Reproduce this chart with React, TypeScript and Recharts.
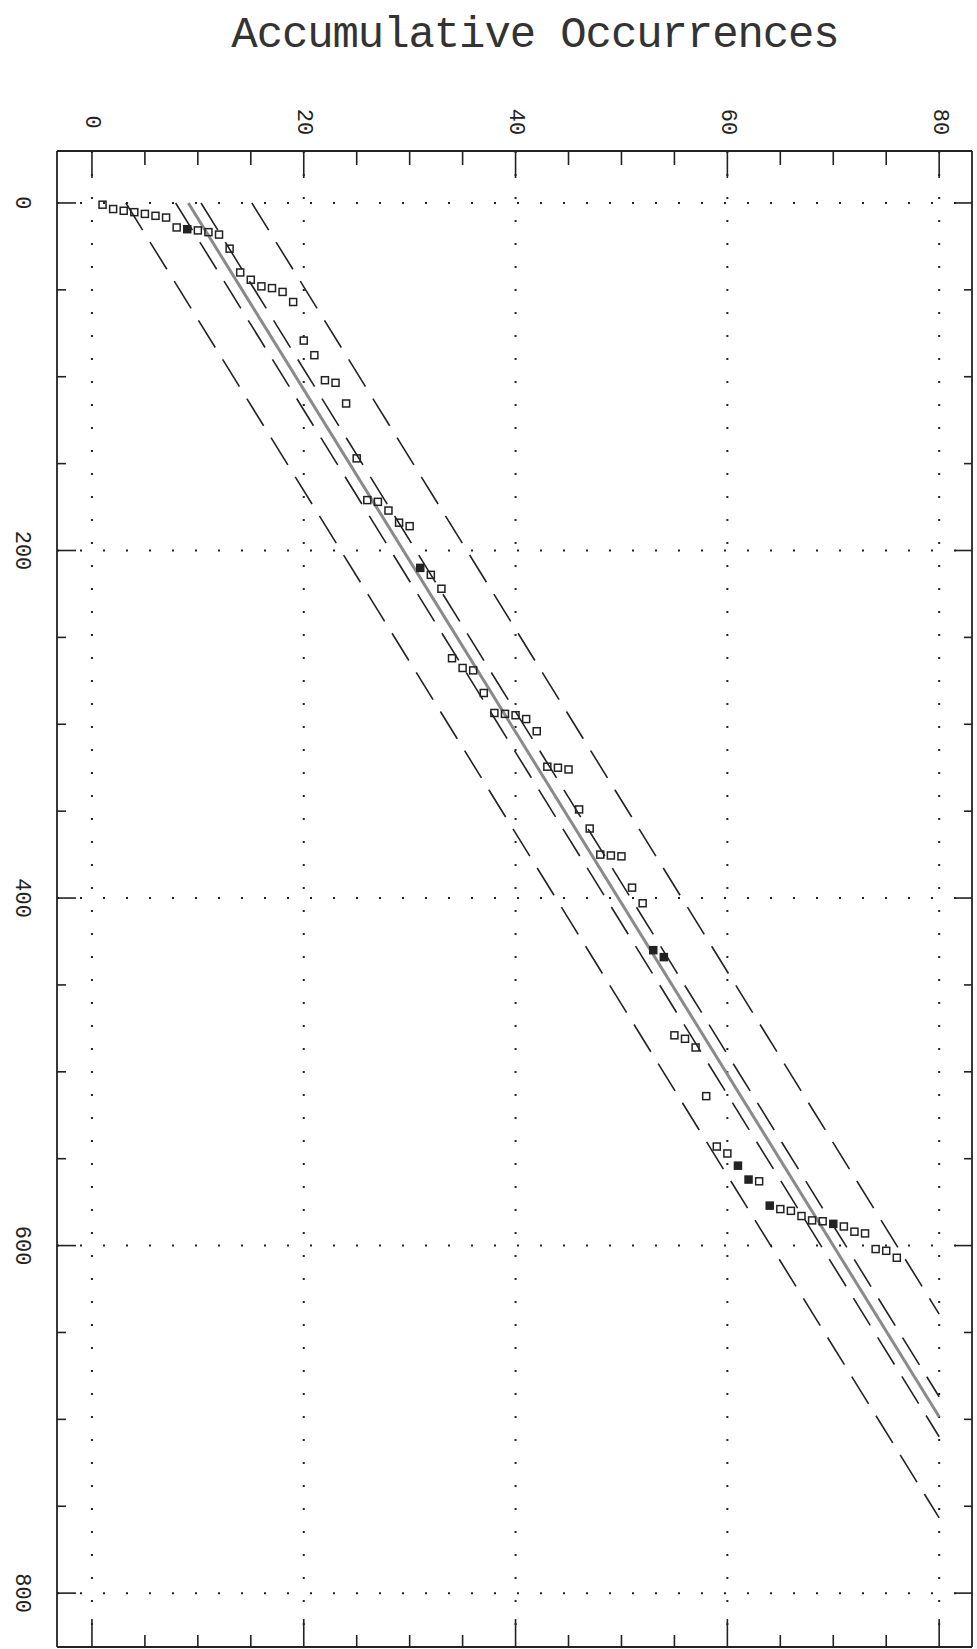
import {
  ReferenceLine,
  Scatter,
  ScatterChart,
  XAxis,
  YAxis,
} from "recharts";

// cumulative count of events (x) against the time of each event (y)
const eventTimes = [
  1, 3.5, 4.5, 5.3, 6.3, 7.4, 8.4, 14.1, 15.1, 15.8,
  16.8, 18.2, 26.3, 40, 44.2, 48, 49, 51.2, 57, 79.2,
  87.6, 102, 103.5, 115.4, 147, 171, 172, 177, 184, 186,
  210, 214, 222, 262, 267.6, 269, 282, 293.5, 294, 294.8,
  297, 304, 324.4, 325, 326, 349, 360, 375, 375.5, 376,
  394, 403, 430, 434, 479, 481, 486, 514, 543, 547,
  554, 562, 563, 577, 579, 580, 583, 585.5, 586, 587.5,
  589, 592, 593, 602, 603, 607,
];
// points drawn as solid squares
const solidPoints = [9, 31, 53, 54, 61, 62, 64, 70];

// fitted trend and its two bands, as [count, time] end points
const fitLine = [[9.1, 0], [80, 698.5]];
const innerLow = [[7.9, 0], [80, 710]];
const innerHigh = [[10.3, 0], [80, 687]];
const outerLow = [[3.2, 0], [80, 756.7]];
const outerHigh = [[15.1, 0], [80, 639.4]];

const countTicks = [0, 5, 10, 15, 20, 25, 30, 35, 40, 45, 50, 55, 60, 65, 70, 75, 80];
const timeTicks = [0, 50, 100, 150, 200, 250, 300, 350, 400, 450, 500, 550, 600, 650, 700, 750, 800];
const countGrid = [0, 20, 40, 60, 80];
const timeGrid = [0, 200, 400, 600, 800];

const points = eventTimes.map((t, i) => ({ n: i + 1, t, solid: solidPoints.includes(i + 1) }));
const toPts = (seg: number[][]) => seg.map(([n, t]) => ({ n, t }));

const INK = "#222";
const FONT = "'Liberation Mono', 'DejaVu Sans Mono', monospace";
const TOP_MARGIN = 29;
const LEFT_MARGIN = 36;
const LABEL_SIZE = 22;

function TopTick(props: any) {
  const { x, y, payload } = props;
  const v = payload.value;
  const base = y + TOP_MARGIN;
  const major = v % 20 === 0;
  return (
    <g>
      <line x1={x} y1={base} x2={x} y2={base + (major ? 27 : 14)} stroke={INK} strokeWidth={1.6} />
      {major && (
        <text
          x={x}
          y={y}
          transform={`rotate(90 ${x} ${y})`}
          textAnchor="middle"
          dominantBaseline="central"
          fontFamily={FONT}
          fontSize={LABEL_SIZE}
          fill={INK}
        >
          {v}
        </text>
      )}
    </g>
  );
}

function BottomTick(props: any) {
  const { x, y, payload } = props;
  const major = payload.value % 20 === 0;
  return <line x1={x} y1={y} x2={x} y2={y - (major ? 28 : 12)} stroke={INK} strokeWidth={1.6} />;
}

function LeftTick(props: any) {
  const { x, y, payload } = props;
  const v = payload.value;
  const base = x + LEFT_MARGIN;
  const major = v % 200 === 0;
  return (
    <g>
      <line x1={base} y1={y} x2={base + (major ? 19 : 9)} y2={y} stroke={INK} strokeWidth={1.6} />
      {major && (
        <text
          x={x}
          y={y}
          transform={`rotate(90 ${x} ${y})`}
          textAnchor="middle"
          dominantBaseline="central"
          fontFamily={FONT}
          fontSize={LABEL_SIZE}
          fill={INK}
        >
          {v}
        </text>
      )}
    </g>
  );
}

function RightTick(props: any) {
  const { x, y, payload } = props;
  const major = payload.value % 200 === 0;
  return <line x1={x} y1={y} x2={x - (major ? 17 : 8)} y2={y} stroke={INK} strokeWidth={1.6} />;
}

function Square(props: any) {
  const { cx, cy, payload } = props;
  return (
    <rect
      x={cx - 3.5}
      y={cy - 3.5}
      width={7}
      height={7}
      fill={payload.solid ? INK : "none"}
      stroke={INK}
      strokeWidth={1.5}
    />
  );
}

const NoDot = () => null;

const countDomain = [-3.3, 83.1];
const timeDomain = [-29.9, 831];

export default function App() {
  const band = { stroke: INK, strokeWidth: 1.6, strokeDasharray: "32 14", fill: "none" };
  return (
    <div style={{ position: "absolute", left: 0, top: 0, width: 977, height: 1649, background: "#fff" }}>
      <div
        style={{
          position: "absolute",
          left: 535,
          top: 13,
          transform: "translateX(-50%)",
          whiteSpace: "nowrap",
          fontFamily: FONT,
          fontSize: 44,
          letterSpacing: -1.1,
          lineHeight: 1,
          color: "#333",
        }}
      >
        Accumulative Occurrences
      </div>
      <ScatterChart width={977} height={1649} margin={{ top: 0, right: 0, bottom: 0, left: 0 }}>
        <XAxis
          xAxisId="t"
          orientation="top"
          type="number"
          dataKey="n"
          domain={countDomain}
          allowDataOverflow
          ticks={countTicks}
          interval={0}
          height={151}
          tickSize={0}
          tickMargin={TOP_MARGIN}
          axisLine={{ stroke: INK, strokeWidth: 1.8 }}
          tickLine={false}
          tick={(p: any) => <TopTick {...p} />}
        />
        <XAxis
          xAxisId="b"
          orientation="bottom"
          type="number"
          dataKey="n"
          domain={countDomain}
          allowDataOverflow
          ticks={countTicks}
          interval={0}
          height={2}
          tickSize={0}
          tickMargin={0}
          axisLine={{ stroke: INK, strokeWidth: 1.8 }}
          tickLine={false}
          tick={(p: any) => <BottomTick {...p} />}
        />
        <YAxis
          yAxisId="l"
          orientation="left"
          type="number"
          dataKey="t"
          domain={timeDomain}
          reversed
          allowDataOverflow
          ticks={timeTicks}
          interval={0}
          width={57}
          tickSize={0}
          tickMargin={LEFT_MARGIN}
          axisLine={{ stroke: INK, strokeWidth: 1.8 }}
          tickLine={false}
          tick={(p: any) => <LeftTick {...p} />}
        />
        <YAxis
          yAxisId="r"
          orientation="right"
          type="number"
          dataKey="t"
          domain={timeDomain}
          reversed
          allowDataOverflow
          ticks={timeTicks}
          interval={0}
          width={5}
          tickSize={0}
          tickMargin={0}
          axisLine={{ stroke: INK, strokeWidth: 1.8 }}
          tickLine={false}
          tick={(p: any) => <RightTick {...p} />}
        />

        {countGrid.map((v) => (
          <ReferenceLine
            key={`gx${v}`}
            x={v}
            xAxisId="t"
            yAxisId="l"
            stroke={INK}
            strokeWidth={2}
            strokeDasharray="2 21"
          />
        ))}
        {timeGrid.map((v) => (
          <ReferenceLine
            key={`gy${v}`}
            y={v}
            xAxisId="t"
            yAxisId="l"
            stroke={INK}
            strokeWidth={2}
            strokeDasharray="2 21"
          />
        ))}

        <Scatter xAxisId="b" yAxisId="r" data={toPts(outerLow)} line={band} shape={NoDot} isAnimationActive={false} />
        <Scatter xAxisId="b" yAxisId="r" data={toPts(outerHigh)} line={band} shape={NoDot} isAnimationActive={false} />
        <Scatter xAxisId="b" yAxisId="r" data={toPts(innerLow)} line={band} shape={NoDot} isAnimationActive={false} />
        <Scatter xAxisId="b" yAxisId="r" data={toPts(innerHigh)} line={band} shape={NoDot} isAnimationActive={false} />
        <Scatter
          xAxisId="b"
          yAxisId="r"
          data={toPts(fitLine)}
          line={{ stroke: "#8a8a8a", strokeWidth: 3, fill: "none" }}
          shape={NoDot}
          isAnimationActive={false}
        />

        <Scatter xAxisId="t" yAxisId="l" data={points} shape={(p: any) => <Square {...p} />} isAnimationActive={false} />
      </ScatterChart>
    </div>
  );
}
